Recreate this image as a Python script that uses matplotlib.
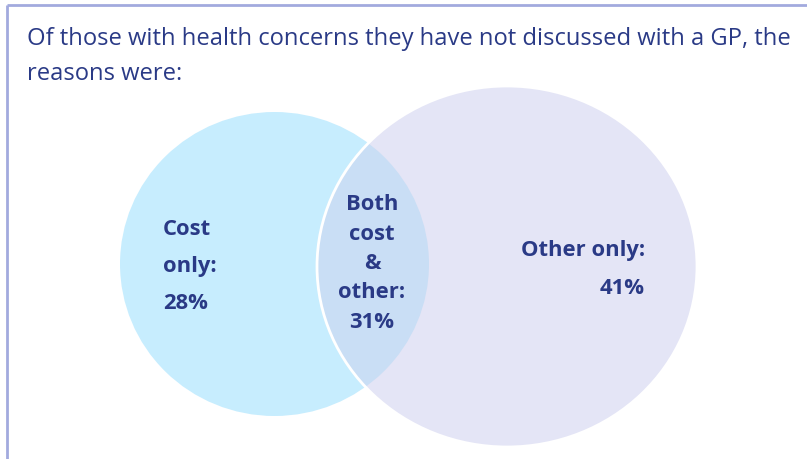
import matplotlib.pyplot as plt
from matplotlib.patches import Ellipse

plt.rcParams['font.family'] = ['Open Sans', 'DejaVu Sans']

title_lines = ["Of those with health concerns they have not discussed with a GP, the",
               "reasons were:"]
groups = ['Cost only', 'Both cost & other', 'Other only']
shares = [28, 31, 41]

navy = '#2a3a86'
cost_col = '#c7edfe'
other_col = '#e4e5f6'
both_col = '#c9def5'
frame_col = '#a2aade'

fig = plt.figure(figsize=(8.07, 4.59), dpi=100)
ax = fig.add_axes([0, 0, 1, 1])
ax.set_xlim(0, 807)
ax.set_ylim(459, 0)
ax.axis('off')

# two overlapping sets
cost = Ellipse((274.5, 264), 309, 304, facecolor=cost_col, edgecolor='none')
other = Ellipse((507, 266.5), 380, 361, facecolor=other_col, edgecolor='none')
ax.add_patch(cost)
ax.add_patch(other)

# overlap region: the cost circle redrawn, clipped to the other circle
both = Ellipse((274.5, 264), 309, 304, facecolor=both_col, edgecolor='none')
ax.add_patch(both)
both.set_clip_path(other)

ax.add_patch(Ellipse((507, 266.5), 380, 361, facecolor='none',
                     edgecolor='white', lw=2))

# frame on the left and top
ax.plot([7, 7], [459, 5], color=frame_col, lw=2, solid_capstyle='butt')
ax.plot([7, 807], [5, 5], color=frame_col, lw=2, solid_capstyle='butt')

for i, line in enumerate(title_lines):
    ax.text(27, 45 + i * 35, line, color=navy, fontsize=17.1,
            ha='left', va='baseline')

bold = dict(color=navy, fontsize=15.8, fontweight='bold')

# cost only
for i, line in enumerate(['Cost', 'only:', f'{shares[0]}%']):
    ax.text(163, 235 + i * 37, line, ha='left', va='baseline', **bold)

# both
for i, line in enumerate(['Both', 'cost', '&', 'other:', f'{shares[1]}%']):
    ax.text(372, 210 + i * 29.5, line, ha='center', va='baseline', **bold)

# other only
ax.text(645, 256, 'Other only:', ha='right', va='baseline', **bold)
ax.text(645, 294, f'{shares[2]}%', ha='right', va='baseline', **bold)

fig.savefig('out.png', dpi=100, facecolor='white')
